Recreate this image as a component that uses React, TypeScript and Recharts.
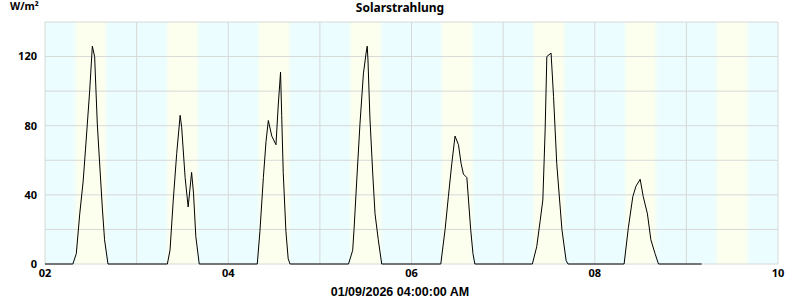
import { CartesianGrid, Line, LineChart, ReferenceArea, ReferenceLine, XAxis, YAxis } from "recharts";

// hour of day, W/m²
const jan02 = [[7.3, 0], [8.2, 6], [9.1, 29], [10.0, 48], [10.6, 66], [11.7, 100], [12.4, 126], [13.0, 120], [13.7, 81], [14.1, 66], [15.0, 33], [15.6, 14], [16.5, 0]];
const jan03 = [[8.05, 0], [8.75, 8], [9.6, 37], [10.5, 64], [11.4, 86], [11.8, 79], [12.7, 50], [13.5, 33], [14.4, 53], [14.9, 41], [15.5, 16], [16.4, 0]];
const jan04 = [[7.6, 0], [8.3, 19], [9.2, 50], [9.9, 71], [10.5, 83], [11.4, 74], [12.5, 69], [13.1, 92], [13.7, 111], [14.0, 86], [14.4, 53], [15.1, 19], [15.7, 3], [16.2, 0]];
const jan05 = [[7.5, 0], [8.6, 8], [8.95, 20], [9.65, 48], [10.5, 81], [11.4, 110], [12.1, 122], [12.4, 126], [12.6, 118], [13.1, 85], [13.85, 52], [14.45, 29], [15.3, 14], [16.2, 0]];
const jan06 = [[7.67, 0], [8.8, 20], [9.66, 39], [10.55, 58], [11.4, 74], [12.3, 69], [13.0, 58], [13.6, 52], [14.5, 50], [15.5, 20], [16.1, 6], [16.6, 0]];
const jan07 = [[7.66, 0], [8.8, 10], [9.7, 25], [10.4, 37], [11.0, 77], [11.45, 120], [12.56, 122], [13.2, 97], [14.05, 58], [15.4, 20], [16.5, 2], [17.0, 0]];
const jan08 = [[7.69, 0], [8.8, 21], [9.97, 39], [10.8, 45], [11.9, 49], [12.7, 39], [13.8, 29], [14.7, 14], [15.8, 6], [16.7, 0]];
const readings = [jan02, jan03, jan04, jan05, jan06, jan07, jan08];
const lastHour = 172; // 09.01 04:00

const dayLabels = ["02", "03", "04", "05", "06", "07", "08", "09", "10"];
const sunrise = 7.3;
const sunset = 16.7;
const yGrid = [0, 20, 40, 60, 80, 100, 120, 140];
const yLabels = [0, 40, 80, 120];

const data = [
  { t: 0, v: 0 },
  ...readings.flatMap((day, i) => day.map(([h, v]) => ({ t: i * 24 + h, v }))),
  { t: lastHour, v: 0 },
];
const dayStarts = dayLabels.map((_, i) => i * 24);

const night = "#EBFDFE";
const day = "#FDFFEE";
const tickStyle = { fill: "#000", fontSize: 11, fontWeight: 700, fontFamily: "Noto Sans" };

export default function App() {
  return (
    <div style={{ position: "absolute", left: 0, top: 0, width: 800, height: 300, background: "#fff" }}>
      <div style={{ position: "absolute", left: 0, top: 0, width: 800, textAlign: "center", font: "700 12px 'Noto Sans'", lineHeight: "16px" }}>
        Solarstrahlung
      </div>
      <div style={{ position: "absolute", left: 10, top: 0, font: "700 10.5px 'Noto Sans'", lineHeight: "12px" }}>W/m²</div>
      <div style={{ position: "absolute", left: 0, top: 285, width: 800, textAlign: "center", font: "700 12.5px 'Liberation Sans'", lineHeight: "14px" }}>
        01/09/2026 04:00:00 AM
      </div>
      <LineChart width={800} height={300} data={data} margin={{ top: 22, right: 22, left: 5, bottom: 16 }}>
        <defs>
          <linearGradient id="dayBand" x1="0" y1="0" x2="1" y2="0">
            <stop offset="0" stopColor={night} />
            <stop offset="0.15" stopColor={day} />
            <stop offset="0.85" stopColor={day} />
            <stop offset="1" stopColor={night} />
          </linearGradient>
        </defs>
        <CartesianGrid horizontal={false} vertical={false} fill={night} />
        {dayStarts.slice(0, -1).map((d) => (
          <ReferenceArea key={"b" + d} x1={d + sunrise} x2={d + sunset} y1={0} y2={140} fill="url(#dayBand)" fillOpacity={1} stroke="none" />
        ))}
        {dayStarts.map((d) => (
          <ReferenceLine key={"x" + d} x={d} stroke="#d8d8d8" />
        ))}
        {yGrid.map((y) => (
          <ReferenceLine key={"y" + y} y={y} stroke="#d8d8d8" />
        ))}
        <XAxis
          type="number"
          dataKey="t"
          domain={[0, 192]}
          ticks={[0, 48, 96, 144, 192]}
          tickFormatter={(t: number) => dayLabels[t / 24]}
          interval={0}
          axisLine={false}
          tickLine={false}
          tickSize={0}
          tickMargin={5}
          height={20}
          tick={tickStyle}
        />
        <YAxis
          domain={[0, 140]}
          ticks={yLabels}
          interval={0}
          axisLine={false}
          tickLine={false}
          width={40}
          tick={tickStyle}
        />
        <Line type="linear" dataKey="v" stroke="#000" strokeWidth={1} dot={false} isAnimationActive={false} />
      </LineChart>
    </div>
  );
}
